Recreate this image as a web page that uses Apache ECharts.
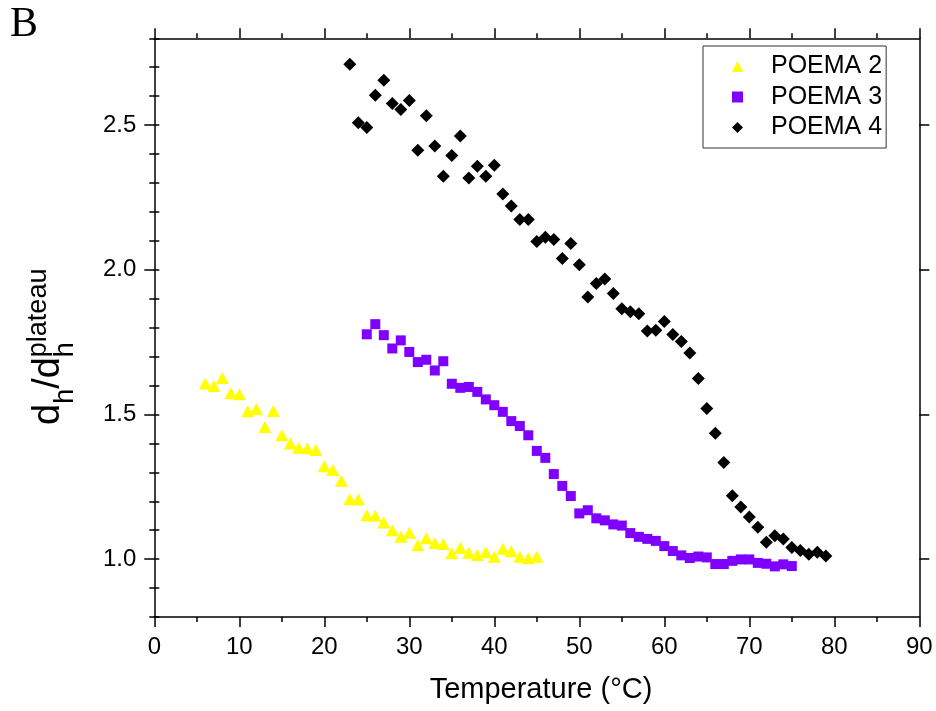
<!DOCTYPE html>
<html><head><meta charset="utf-8">
<script src="https://cdn.jsdelivr.net/npm/echarts@6/dist/echarts.min.js"></script>
<style>html,body{margin:0;padding:0;background:#fff}#c{width:936px;height:711px}</style>
</head><body><div id="c"></div>
<script>
// ---- data (temperature in °C, d_h / d_h^plateau) ----
const temp2 = [6,7,8,9,10,11,12,13,14,15,16,17,18,19,20,21,22,23,24,25,26,27,28,29,30,31,32,33,34,35,36,37,38,39,40,41,42,43,44,45];
const poema2 = [1.607,1.598,1.626,1.573,1.570,1.511,1.519,1.457,1.512,1.428,
                1.400,1.385,1.383,1.377,1.321,1.308,1.271,1.207,1.206,1.152,
                1.150,1.127,1.100,1.077,1.091,1.048,1.072,1.056,1.052,1.020,
                1.039,1.022,1.014,1.024,1.008,1.036,1.027,1.008,1.003,1.008];
const temp3 = [25,26,27,28,29,30,31,32,33,34,35,36,37,38,39,40,41,42,43,44,45,46,47,48,49,50,51,52,53,54,55,56,57,58,59,60,61,62,63,64,65,66,67,68,69,70,71,72,73,74,75];
const poema3 = [1.777,1.812,1.774,1.728,1.756,1.716,1.681,1.689,1.652,1.684,
                1.606,1.592,1.595,1.578,1.552,1.532,1.509,1.477,1.460,1.428,
                1.374,1.350,1.294,1.253,1.218,1.158,1.169,1.141,1.134,1.120,
                1.116,1.090,1.077,1.070,1.063,1.045,1.028,1.013,1.004,1.009,
                1.006,0.983,0.983,0.994,0.999,0.999,0.987,0.984,0.975,0.982,0.976];
const temp4 = [23,24,25,26,27,28,29,30,31,32,33,34,35,36,37,38,39,40,41,42,43,44,45,46,47,48,49,50,51,52,53,54,55,56,57,58,59,60,61,62,63,64,65,66,67,68,69,70,71,72,73,74,75,76,77,78,79];
const poema4 = [2.710,2.508,2.492,2.603,2.655,2.575,2.554,2.585,2.413,2.532,
                2.428,2.323,2.395,2.462,2.317,2.358,2.323,2.361,2.262,2.220,
                2.174,2.174,2.098,2.112,2.105,2.039,2.091,2.017,1.906,1.953,
                1.968,1.918,1.865,1.855,1.848,1.788,1.791,1.821,1.776,1.752,
                1.712,1.624,1.521,1.435,1.334,1.219,1.180,1.146,1.110,1.058,
                1.081,1.070,1.040,1.030,1.017,1.024,1.011];
const seriesNames = ['POEMA 2','POEMA 3','POEMA 4'];
const yMajorTicks = [1.0, 1.5, 2.0, 2.5];
const xAxisTitle = 'Temperature (°C)';
const panelLabel = 'B';

// ---- chart ----
const FONT = '"Liberation Sans", Arial, Helvetica, sans-serif';
const chart = echarts.init(document.getElementById('c'), null, {renderer: 'canvas'});
const pairs = (xs, ys) => xs.map((x, i) => [x, ys[i]]);
const lineSt = {color: '#000', width: 1.5};

const ctx = document.createElement('canvas').getContext('2d');
function tw(t, size) { ctx.font = size + 'px ' + FONT; return ctx.measureText(t).width; }

// rotated y-axis title built from pieces (sub/superscripts)
const BIG = 38, SMALL = 27, SUB = 17, SUP = -10;
function piece(text, size, x, y) {
  return {type: 'text', x: x, y: y, style: {text: text, fontSize: size, fontFamily: FONT, fill: '#000',
    textAlign: 'left', textVerticalAlign: 'middle', align: 'left', verticalAlign: 'middle'}};
}
const pieces = [['d', BIG, 0], ['h', SMALL, SUB], ['/', BIG, 0], ['d', BIG, 0]];
const yTitleChildren = [];
let pos = 0;
pieces.forEach(p => { yTitleChildren.push(piece(p[0], p[1], pos, p[2])); pos += tw(p[0], p[1]); });
yTitleChildren.push(piece('h', SMALL, pos, SUB));
yTitleChildren.push(piece('plateau', SMALL, pos, SUP));

const baseX = {type: 'value', min: 0, max: 90, interval: 10,
  axisLine: {show: true, lineStyle: lineSt, onZero: false},
  axisTick: {show: true, inside: false, length: 10, lineStyle: lineSt},
  minorTick: {show: true, splitNumber: 2, length: 5, lineStyle: lineSt},
  splitLine: {show: false}, minorSplitLine: {show: false}};
const baseYMajor = {type: 'value', min: 0.8, max: 2.8,
  axisLine: {show: true, lineStyle: lineSt, onZero: false},
  axisTick: {show: true, inside: false, length: 10, lineStyle: lineSt, customValues: yMajorTicks},
  splitLine: {show: false}};
const baseYMinor = {type: 'value', min: 0.8, max: 2.8, interval: 0.1,
  axisLine: {show: false},
  axisTick: {show: true, inside: false, length: 5, lineStyle: lineSt},
  axisLabel: {show: false}, splitLine: {show: false}};

chart.setOption({
  animation: false,
  backgroundColor: '#fff',
  grid: {left: 154.3, right: 16.7, top: 38.3, bottom: 94, containLabel: false},
  xAxis: [
    Object.assign({}, baseX, {position: 'bottom',
      axisLabel: {show: true, fontSize: 24, fontFamily: FONT, color: '#000', margin: 18}}),
    Object.assign({}, baseX, {position: 'top', axisLabel: {show: false}})
  ],
  yAxis: [
    Object.assign({}, baseYMajor, {position: 'left',
      axisLabel: {show: true, customValues: yMajorTicks, formatter: v => v.toFixed(1), fontSize: 24, fontFamily: FONT, color: '#000', margin: 18}}),
    Object.assign({}, baseYMajor, {position: 'right', axisLabel: {show: false}}),
    Object.assign({}, baseYMinor, {position: 'left'}),
    Object.assign({}, baseYMinor, {position: 'right'})
  ],
  legend: {
    orient: 'vertical', left: 703, top: 46, padding: [8, 4, 8, 29], itemGap: 5.5,
    itemWidth: 11, itemHeight: 11, borderColor: '#333', borderWidth: 1,
    selectedMode: false,
    textStyle: {fontSize: 25, fontFamily: FONT, color: '#000', lineHeight: 24, padding: [0, 0, 0, 23]},
    data: seriesNames
  },
  series: [
    {name: seriesNames[0], type: 'scatter', xAxisIndex: 0, yAxisIndex: 0, symbol: 'triangle', symbolSize: [13, 12],
     itemStyle: {color: '#ffff00', opacity: 1}, data: pairs(temp2, poema2)},
    {name: seriesNames[1], type: 'scatter', xAxisIndex: 0, yAxisIndex: 0, symbol: 'rect', symbolSize: 10,
     itemStyle: {color: '#8000ff', opacity: 1}, data: pairs(temp3, poema3)},
    {name: seriesNames[2], type: 'scatter', xAxisIndex: 0, yAxisIndex: 0, symbol: 'diamond', symbolSize: 13,
     itemStyle: {color: '#000', opacity: 1}, data: pairs(temp4, poema4)}
  ],
  graphic: [
    {type: 'text', left: 10, top: 4, style: {text: panelLabel, fontSize: 42, fontFamily: '"Liberation Serif", "Times New Roman", serif', fill: '#000'}},
    {type: 'text', x: 541, y: 690, style: {text: xAxisTitle, fontSize: 29, fontFamily: FONT, fill: '#000', textAlign: 'center', textVerticalAlign: 'middle', align: 'center', verticalAlign: 'middle'}},
    {type: 'group', x: 49, y: 425, rotation: Math.PI / 2, children: yTitleChildren}
  ]
});
</script></body></html>
